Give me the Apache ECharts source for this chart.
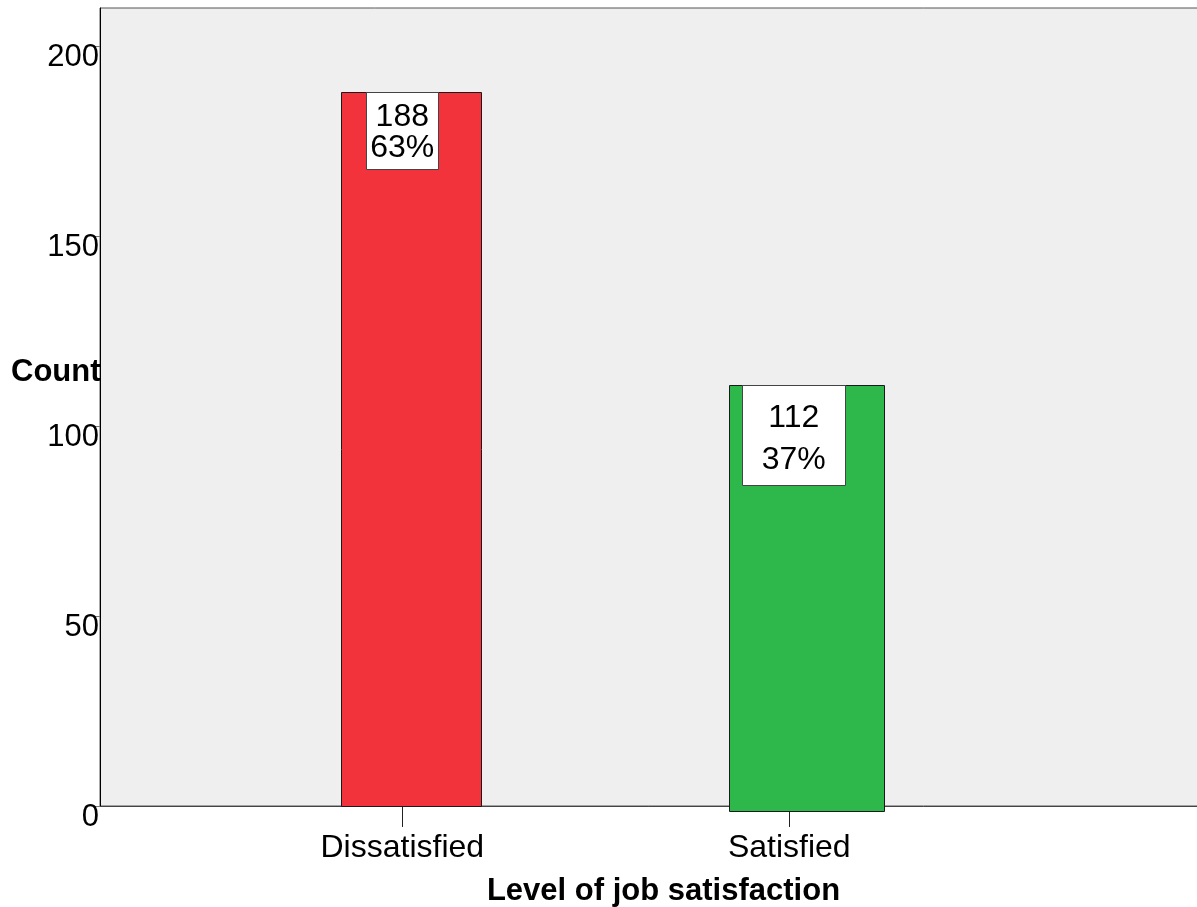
<!DOCTYPE html>
<html>
<head>
<meta charset="utf-8">
<script src="https://cdn.jsdelivr.net/npm/echarts@6/dist/echarts.min.js"></script>
<style>
html,body{margin:0;padding:0;background:#fff;}
#chart{width:1197px;height:907px;}
</style>
</head>
<body>
<div id="chart"></div>
<script>
// ---- data ----
const categories = ['Dissatisfied', 'Satisfied'];
const counts = [188, 112];
const categoryPositions = [1, 2];
const yTickValues = [0, 50, 100, 150, 200];
const yMax = 210;
const xTitle = 'Level of job satisfaction';
const yTitle = 'Count';

// ---- styles ----
const FONT = '"Liberation Sans", Arial, sans-serif';
const barLook = [
  { fill: '#F2333B', width: 140, shift: 8.4, drop: 0,   box: { w: 72,  h: 77,  shift: 0,   line1: 26, line2: 57 } },
  { fill: '#2EB84B', width: 155, shift: 17.2, drop: 4.7, box: { w: 103, h: 100, shift: 4.5, line1: 33, line2: 75 } }
];

const total = counts.reduce((a, b) => a + b, 0);
const seriesData = counts.map((c, i) => [categoryPositions[i], c]);

const chart = echarts.init(document.getElementById('chart'), null, { renderer: 'canvas' });

chart.setOption({
  animation: false,
  backgroundColor: '#ffffff',
  title: {
    text: yTitle,
    left: 6,
    top: 352,
    textStyle: { fontFamily: FONT, fontSize: 31, fontWeight: 'bold', color: '#000' }
  },
  grid: {
    left: 100, right: -30, top: 8, bottom: 101,
    show: true,
    backgroundColor: '#EFEFEF',
    borderColor: '#555',
    borderWidth: 1,
    containLabel: false,
    outerBoundsMode: 'none'
  },
  xAxis: {
    type: 'value',
    min: 0.2189,
    max: 3.131,
    splitLine: { show: false },
    axisLine: { show: true, onZero: false, lineStyle: { color: '#444', width: 1 } },
    axisTick: { show: true, customValues: categoryPositions, length: 21, lineStyle: { color: '#222' } },
    axisLabel: {
      customValues: categoryPositions,
      formatter: v => categories[categoryPositions.indexOf(v)] || '',
      margin: 26,
      fontFamily: FONT, fontSize: 32, color: '#000'
    },
    name: xTitle,
    nameLocation: 'middle',
    nameGap: 70,
    nameTextStyle: { fontFamily: FONT, fontSize: 31, fontWeight: 'bold', color: '#000' }
  },
  yAxis: {
    type: 'value',
    min: 0,
    max: yMax,
    splitLine: { show: false },
    axisLine: { show: true, lineStyle: { color: '#000', width: 1 } },
    axisTick: { show: true, customValues: yTickValues, length: 7, lineStyle: { color: '#777' } },
    axisLabel: {
      customValues: yTickValues,
      margin: 1,
      verticalAlign: 'top',
      lineHeight: 22,
      fontFamily: FONT, fontSize: 31, color: '#000'
    }
  },
  series: [{
    type: 'custom',
    data: seriesData,
    renderItem: function (params, api) {
      const i = params.dataIndex;
      const look = barLook[i];
      const xv = api.value(0), v = api.value(1);
      const topPt = api.coord([xv, v]);
      const basePt = api.coord([xv, 0]);
      const h = basePt[1] - topPt[1];
      const cx = topPt[0] + look.shift;
      const topY = topPt[1] + look.drop;
      const bx = topPt[0] + look.box.shift;
      const pct = Math.round(v / total * 100) + '%';
      return {
        type: 'group',
        children: [
          {
            type: 'rect',
            shape: { x: Math.round(cx - look.width / 2) + 0.5, y: Math.round(topY) + 0.5, width: look.width, height: Math.round(h) },
            style: { fill: look.fill, stroke: '#1a1a1a', lineWidth: 1 }
          },
          {
            type: 'rect',
            shape: { x: Math.round(bx - look.box.w / 2) + 0.5, y: Math.round(topY) + 0.5, width: look.box.w, height: look.box.h },
            style: { fill: '#ffffff', stroke: '#444', lineWidth: 1 }
          },
          {
            type: 'text',
            x: bx, y: topY + look.box.line1,
            style: { text: String(v), fill: '#000', font: '32px ' + FONT, textAlign: 'center', textVerticalAlign: 'middle', verticalAlign: 'middle', align: 'center' }
          },
          {
            type: 'text',
            x: bx, y: topY + look.box.line2,
            style: { text: pct, fill: '#000', font: '32px ' + FONT, textAlign: 'center', textVerticalAlign: 'middle', verticalAlign: 'middle', align: 'center' }
          }
        ]
      };
    }
  }]
});
</script>
</body>
</html>
